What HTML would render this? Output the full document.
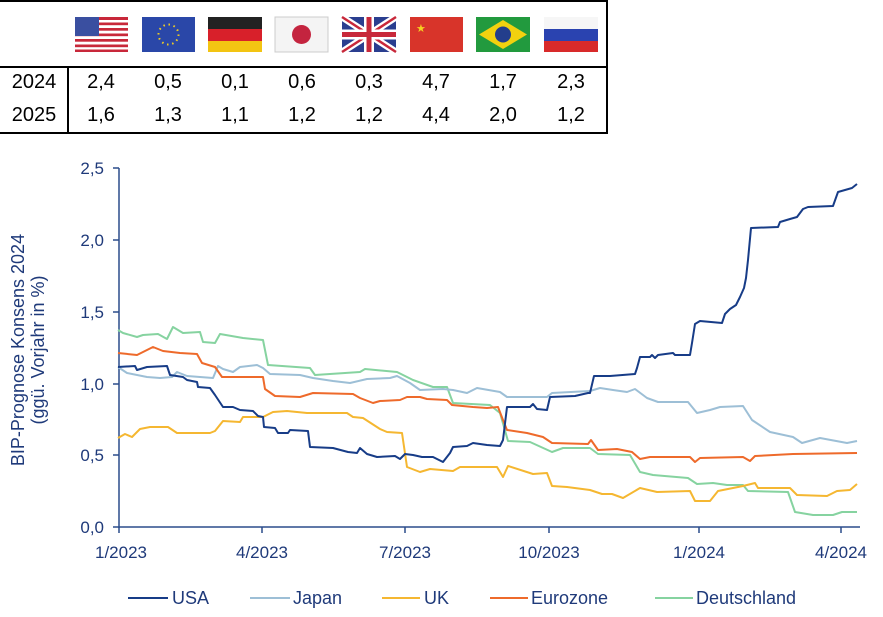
<!DOCTYPE html>
<html><head><meta charset="utf-8"><style>
html,body{margin:0;padding:0;background:#fff;}
svg{display:block;font-family:"Liberation Sans",Arial,sans-serif;}
</style></head><body>
<svg width="883" height="617" viewBox="0 0 883 617" xmlns="http://www.w3.org/2000/svg">
<g stroke="#000" stroke-width="2" fill="none">
<line x1="0" y1="1" x2="608" y2="1"/>
<line x1="607" y1="0" x2="607" y2="134"/>
<line x1="0" y1="67" x2="608" y2="67"/>
<line x1="0" y1="133" x2="608" y2="133"/>
<line x1="68" y1="67" x2="68" y2="133"/>
</g>
<g>
<rect x="75" y="17" width="53" height="35" fill="#fff"/>
<g fill="#c8283a"><rect x="75" y="17" width="53" height="3"/><rect x="75" y="22.5" width="53" height="2.7"/><rect x="75" y="28" width="53" height="2.7"/><rect x="75" y="33.5" width="53" height="2.7"/><rect x="75" y="39" width="53" height="2.7"/><rect x="75" y="44.5" width="53" height="2.7"/><rect x="75" y="49.5" width="53" height="2.5"/></g>
<rect x="75" y="17" width="24" height="19" fill="#3a4fa0"/>
<rect x="142" y="17" width="53" height="35" fill="#2a47a8"/>
<circle cx="168.5" cy="34.5" r="10" fill="none" stroke="#f5d020" stroke-width="2" stroke-dasharray="1.5 3.7"/>
<rect x="208" y="17" width="54" height="12" fill="#222"/>
<rect x="208" y="29" width="54" height="12" fill="#d8202a"/>
<rect x="208" y="41" width="54" height="11" fill="#f3c412"/>
<rect x="275" y="17" width="53" height="35" fill="#f4f4f4" stroke="#ccc"/>
<circle cx="301.5" cy="34.5" r="9.5" fill="#c4243f"/>
<rect x="342" y="17" width="54" height="35" fill="#2a3e8f"/>
<path d="M342 17L396 52M396 17L342 52" stroke="#fff" stroke-width="7"/>
<path d="M342 17L396 52M396 17L342 52" stroke="#c8283a" stroke-width="2.5"/>
<path d="M369 17V52M342 34.5H396" stroke="#fff" stroke-width="10"/>
<path d="M369 17V52M342 34.5H396" stroke="#c8283a" stroke-width="5"/>
<rect x="410" y="17" width="53" height="35" fill="#d8342a"/>
<text x="416" y="32" font-size="11" fill="#f5d020">★</text>
<rect x="476" y="17" width="54" height="35" fill="#229a3e"/>
<polygon points="503,20 527,34.5 503,49 479,34.5" fill="#f2d10f"/>
<circle cx="503" cy="34.5" r="8" fill="#233e8c"/>
<rect x="544" y="17" width="54" height="12" fill="#f6f6f6"/>
<rect x="544" y="29" width="54" height="12" fill="#2a43b0"/>
<rect x="544" y="41" width="54" height="11" fill="#d82a2a"/>
</g>
<g font-size="20" fill="#000" text-anchor="middle">
<text x="34" y="88">2024</text><text x="34" y="121">2025</text>
<text x="101" y="88">2,4</text><text x="168" y="88">0,5</text><text x="235" y="88">0,1</text><text x="302" y="88">0,6</text><text x="369" y="88">0,3</text><text x="436" y="88">4,7</text><text x="503" y="88">1,7</text><text x="571" y="88">2,3</text>
<text x="101" y="121">1,6</text><text x="168" y="121">1,3</text><text x="235" y="121">1,1</text><text x="302" y="121">1,2</text><text x="369" y="121">1,2</text><text x="436" y="121">4,4</text><text x="503" y="121">2,0</text><text x="571" y="121">1,2</text>
</g>
<g stroke="#2b4d8c" stroke-width="1.5" fill="none">
<line x1="119" y1="168" x2="119" y2="528"/>
<line x1="119" y1="527" x2="860" y2="527"/>
<path d="M113 527H119M113 455H119M113 384H119M113 312H119M113 240H119M113 168H119"/>
<path d="M119 527V533M262 527V533M405 527V533M549 527V533M699 527V533M841 527V533"/>
</g>
<g font-size="17" fill="#1f3a7a" text-anchor="end">
<text x="104" y="533">0,0</text><text x="104" y="461">0,5</text><text x="104" y="390">1,0</text><text x="104" y="318">1,5</text><text x="104" y="246">2,0</text><text x="104" y="174">2,5</text>
</g>
<g font-size="17" fill="#1f3a7a" text-anchor="middle">
<text x="121" y="558">1/2023</text><text x="262" y="558">4/2023</text><text x="405" y="558">7/2023</text><text x="549" y="558">10/2023</text><text x="699" y="558">1/2024</text><text x="841" y="558">4/2024</text>
</g>
<g font-size="18" fill="#1f3a7a" text-anchor="middle">
<text transform="translate(24,350) rotate(-90)">BIP-Prognose Konsens 2024</text>
<text transform="translate(44,350) rotate(-90)">(ggü. Vorjahr in %)</text>
</g>
<g fill="none" stroke-width="2" stroke-linejoin="round">
<polyline stroke="#86d3a0" points="118,330 123,333 137,337 143,335 158,334 167,339 173,327 183,333 200,332 203,342 215,343 220,334 243,338 263,340 268,365 310,368 315,375 360,372 365,369 397,372 413,380 433,387 447,387 453,403 490,405 500,413 508,441 530,442 552,452 563,448 590,448 598,454 630,455 640,472 653,475 688,478 697,484 713,483 727,485 743,485 748,491 788,492 795,512 813,515 833,515 842,512 857,512"/>
<polyline stroke="#9dbfd6" points="118,367 127,373 147,377 160,378 172,377 177,372 187,376 200,377 213,378 218,366 223,369 233,372 240,367 257,365 263,368 270,374 300,375 313,378 333,381 350,383 367,379 390,378 397,376 410,383 420,390 443,389 453,390 467,393 477,388 500,392 507,397 547,397 552,393 590,391 600,388 613,390 627,392 635,389 647,398 658,402 688,402 697,413 710,410 720,407 743,406 752,420 770,432 793,437 802,443 820,438 847,443 857,441"/>
<polyline stroke="#f5b731" points="118,438 125,434 132,437 140,429 150,427 168,427 177,433 210,433 215,431 223,421 240,422 243,417 263,417 273,412 287,411 307,413 347,413 353,417 363,418 380,429 387,432 402,433 407,467 420,472 430,469 453,471 460,467 497,467 503,477 508,466 533,474 547,473 552,486 567,487 590,490 602,494 612,494 623,498 640,488 657,492 690,491 695,501 710,501 718,491 743,486 755,483 758,488 790,488 797,495 827,496 837,491 850,490 857,484"/>
<polyline stroke="#ee6a2b" points="118,353 137,355 153,347 163,351 180,353 197,354 202,363 215,367 222,377 263,377 265,389 275,396 300,397 313,393 353,394 360,398 373,403 380,401 400,400 407,397 420,397 427,399 447,400 452,405 473,407 487,408 498,407 503,420 507,430 527,433 543,437 552,443 588,444 591,440 598,450 617,449 632,452 640,459 650,457 690,457 695,462 700,458 743,457 750,461 755,456 793,454 857,453"/>
<polyline stroke="#173c87" points="118,367 135,366 137,370 147,367 167,366 170,375 183,377 187,380 197,382 198,387 210,388 215,395 223,407 233,407 240,410 253,411 258,416 263,417 264,427 275,428 278,433 288,433 290,430 308,431 310,447 333,448 348,452 357,453 360,448 367,454 377,457 395,456 400,459 405,454 413,455 422,457 433,457 443,462 450,453 453,447 467,446 473,443 487,445 500,446 503,440 507,407 530,407 533,404 537,409 547,410 550,397 575,396 588,393 590,393 594,376 610,376 635,374 637,368 640,357 650,357 652,355 655,358 658,355 673,353 675,355 690,355 692,343 695,324 700,321 722,323 725,314 730,309 736,305 740,297 744,288 746,278 748,260 751,228 778,227 780,222 790,219 797,217 803,209 808,207 833,206 838,192 845,190 852,188 857,184"/>
</g>
<g stroke-width="2">
<line x1="128" y1="598" x2="168" y2="598" stroke="#173c87"/>
<line x1="250" y1="598" x2="290" y2="598" stroke="#9dbfd6"/>
<line x1="382" y1="598" x2="420" y2="598" stroke="#f5b731"/>
<line x1="490" y1="598" x2="528" y2="598" stroke="#ee6a2b"/>
<line x1="655" y1="598" x2="693" y2="598" stroke="#86d3a0"/>
</g>
<g font-size="18" fill="#1f3a7a">
<text x="172" y="604">USA</text><text x="293" y="604">Japan</text><text x="424" y="604">UK</text><text x="531" y="604">Eurozone</text><text x="696" y="604">Deutschland</text>
</g>
</svg>
</body></html>
